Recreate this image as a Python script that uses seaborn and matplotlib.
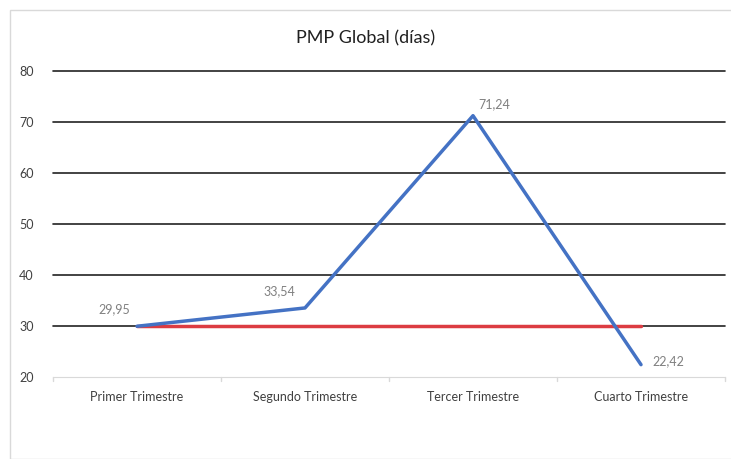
import pandas as pd
import matplotlib
matplotlib.use("Agg")
import matplotlib.pyplot as plt
import seaborn as sns
from matplotlib.patches import Rectangle

trimestres = ["Primer Trimestre", "Segundo Trimestre", "Tercer Trimestre", "Cuarto Trimestre"]
pmp = [29.95, 33.54, 71.24, 22.42]
objetivo = [30, 30, 30, 30]
etiquetas = ["29,95", "33,54", "71,24", "22,42"]

df = pd.DataFrame({"trimestre": trimestres, "pmp": pmp, "objetivo": objetivo})
df["x"] = range(len(df))

sns.set_style("white")
plt.rcParams["font.family"] = ["Lato", "DejaVu Sans"]

fig = plt.figure(figsize=(7.31, 4.59), dpi=100)
fig.patches.append(Rectangle((10 / 731, 0), 1, 1 - 10 / 459, transform=fig.transFigure,
                             fill=False, edgecolor="#d9d9d9", lw=1))
ax = fig.add_axes([53 / 731, 1 - 377 / 459, 672 / 731, 306 / 459])

# rejilla horizontal oscura
for y in range(30, 90, 10):
    ax.axhline(y, color="#222222", lw=1.2, zorder=1, clip_on=False)

sns.lineplot(data=df, x="x", y="objetivo", color="#dc3c42", lw=2.5, ax=ax, zorder=2)
sns.lineplot(data=df, x="x", y="pmp", color="#4472c4", lw=2.5, ax=ax, zorder=3)

offsets = [(-28, 8), (-30, 8), (4, 4), (8, -2)]
for xi, yi, lab, off in zip(df["x"], pmp, etiquetas, offsets):
    ax.annotate(lab, (xi, yi), xytext=off, textcoords="offset points",
                fontsize=9, color="#808080", ha="left", va="bottom")

ax.set_xlim(-0.5, 3.5)
ax.set_ylim(20, 80)
ax.set_yticks(range(20, 90, 10))
ax.set_xticks(df["x"])
ax.set_xticklabels(trimestres)
ax.tick_params(axis="x", length=0, pad=10, labelsize=9, labelcolor="#404040")
ax.tick_params(axis="y", length=0, pad=14, labelsize=9, labelcolor="#404040")
for s in ["top", "right", "left"]:
    ax.spines[s].set_visible(False)
ax.spines["bottom"].set_color("#d9d9d9")
for xb in [-0.5, 0.5, 1.5, 2.5, 3.5]:
    ax.plot([xb, xb], [20, 19.2], color="#d9d9d9", lw=1, clip_on=False)
ax.set_xlabel("")
ax.set_ylabel("")
fig.text(0.5, 1 - 38 / 459, "PMP Global (días)", ha="center", va="center",
         fontsize=13, color="#202020")

fig.savefig("out.png", dpi=100)
